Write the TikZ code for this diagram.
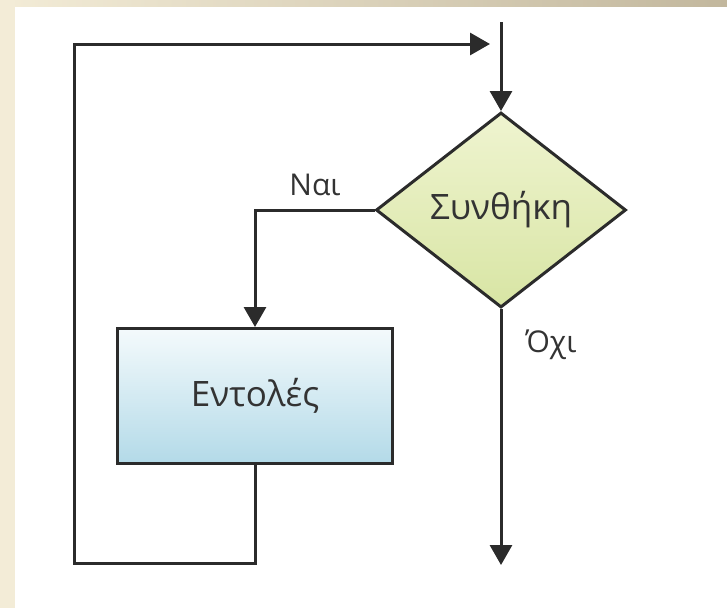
\documentclass[tikz,border=0pt]{standalone}
\usepackage{fontspec}
\setmainfont{Open Sans}
\usetikzlibrary{shapes.geometric,arrows.meta}
\definecolor{linec}{HTML}{2B2B2B}
\definecolor{textc}{HTML}{333333}
\definecolor{beigeA}{HTML}{F3ECD7}
\definecolor{beigeB}{HTML}{C2B79D}
\definecolor{dTop}{HTML}{EFF4D0}
\definecolor{dBot}{HTML}{D8E5A4}
\definecolor{rTop}{HTML}{F4FAFC}
\definecolor{rBot}{HTML}{B3DAE8}
\tikzset{
  conn/.style={draw=linec, line width=3pt, -{Triangle[length=20pt,width=22pt]}},
  plainconn/.style={draw=linec, line width=3pt},
  decision/.style={diamond, draw=linec, line width=3pt, top color=dTop, bottom color=dBot,
    minimum width=250pt, minimum height=195pt, inner sep=0pt, text=textc,
    font=\fontsize{35}{40}\selectfont},
  process/.style={rectangle, draw=linec, line width=3pt, top color=rTop, bottom color=rBot,
    minimum width=275pt, minimum height=135pt, inner sep=0pt, text=textc,
    font=\fontsize{35}{40}\selectfont},
  lbl/.style={text=textc, inner sep=0pt, font=\fontsize{30}{34}\selectfont}
}
\begin{document}
\begin{tikzpicture}[x=1pt,y=-1pt]
\useasboundingbox (0,0) rectangle (727,608);
\fill[white] (0,0) rectangle (727,608);
\shade[left color=beigeA, right color=beigeB] (0,0) rectangle (727,6);
\fill[beigeA] (0,0) rectangle (15,608);

\node[decision] (cond) at (501,210) {Συνθήκη};
\node[process] (act) at (255,396) {Εντολές};
\node[lbl] (yes) at (315,185) {Ναι};
\node[lbl] (no) at (551,345) {Όχι};

\coordinate (start) at (501,22);
\coordinate (out) at (501,565);
\coordinate (lb) at (74,563);
\coordinate (lt) at (74,44);
\coordinate (join) at (490,44);

\draw[conn] (start) -- (cond.north);
\draw[conn] (cond.west) -| (act.north);
\draw[conn] (cond.south) -- (out);
\draw[conn, line join=miter] (act.south) |- (lb) -- (lt) -- (join);
\end{tikzpicture}
\end{document}
